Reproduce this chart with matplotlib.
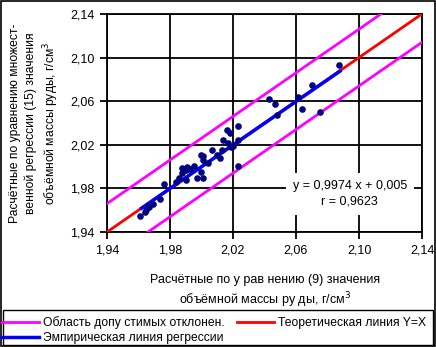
import matplotlib.pyplot as plt
import numpy as np

plt.rcParams['font.family'] = ['Liberation Sans', 'DejaVu Sans']

# points
x_pts = [1.961, 1.964, 1.965, 1.966, 1.967, 1.969, 1.974, 1.976, 1.986, 1.988,
         1.990, 1.990, 1.991, 1.995, 1.997, 2.000, 2.000, 2.001, 2.001, 2.001,
         2.007, 2.010, 2.013, 2.014, 2.016, 2.017, 2.018, 2.019, 2.020, 2.023,
         2.023, 2.023, 2.043, 2.047, 2.048, 2.061, 2.064, 2.070, 2.075, 2.087,
         1.984, 1.993, 1.988, 2.004, 2.012]
y_pts = [1.955, 1.958, 1.960, 1.964, 1.963, 1.966, 1.970, 1.984, 1.990, 1.994,
         1.997, 1.988, 2.000, 2.001, 1.990, 1.995, 2.011, 1.990, 2.010, 2.006,
         2.015, 2.011, 2.015, 2.024, 2.034, 2.022, 2.031, 2.018, 2.019, 2.037,
         2.001, 2.024, 2.062, 2.057, 2.047, 2.064, 2.053, 2.075, 2.050, 2.093,
         1.986, 1.998, 1.999, 2.003, 2.008]

reg_slope = 0.9974
reg_intercept = 0.005
reg_x = [1.962, 2.088]
band = 0.026
ticks = [1.94, 1.98, 2.02, 2.06, 2.10, 2.14]
tick_labels = ['1,94', '1,98', '2,02', '2,06', '2,10', '2,14']

fig = plt.figure(figsize=(4.36, 3.47), dpi=100)
ax = fig.add_axes([0.245, 0.331, 0.723, 0.629])

xx = np.array([1.94, 2.14])
l_band, = ax.plot(xx, xx + band, color='#ff00ff', lw=2, zorder=3)
ax.plot(xx, xx - band, color='#ff00ff', lw=2, zorder=3)
l_theo, = ax.plot(xx, xx, color='#ff0000', lw=2, zorder=3)
rx = np.array(reg_x)
l_reg, = ax.plot(rx, reg_slope * rx + reg_intercept, color='#0000ff', lw=2.5, zorder=4)
ax.scatter(x_pts, y_pts, s=14, color='#000080', zorder=5)

ax.set_xlim(1.94, 2.14)
ax.set_ylim(1.94, 2.14)
ax.set_xticks(ticks)
ax.set_xticklabels(tick_labels)
ax.set_yticks(ticks)
ax.set_yticklabels(tick_labels)
ax.grid(True, color='black', lw=1.3, zorder=1)
ax.set_axisbelow(True)
for s in ax.spines.values():
    s.set_linewidth(1.3)
ax.tick_params(direction='out', length=5, width=1.3, labelsize=9, pad=4)

ax.text(0.771, 0.175, 'y = 0,9974 x + 0,005\nr = 0,9623', transform=ax.transAxes,
        ha='center', va='center', fontsize=9, linespacing=1.35, zorder=6,
        bbox=dict(facecolor='white', edgecolor='none', pad=5))

fig.text(265 / 436, 1 - 292 / 347,
         'Расчётные по у рав нению (9) значения\nобъёмной массы ру ды, г/см$^3$',
         ha='center', va='center', fontsize=9, linespacing=1.3)
fig.text(35 / 436, 1 - 123 / 347,
         'Расчётные по уравнению множест-\nвенной регрессии (15) значения\nобъёмной массы руды, г/см$^3$',
         rotation=90, ha='center', va='center', fontsize=8.7, linespacing=1.35)

# legend box across the bottom
fig.patches.append(plt.Rectangle((0.007, 0.006), 0.986, 1 - 310 / 347 - 0.006,
                                 transform=fig.transFigure, fill=False,
                                 edgecolor='black', lw=1))
leg = fig.legend([l_band, l_reg, l_theo],
                 ['Область допу стимых отклонен.', 'Эмпирическая линия регрессии',
                  'Теоретическая линия Y=X'],
                 ncol=2, loc='upper left', bbox_to_anchor=(0.0, 1 - 314 / 347),
                 fontsize=8.7, frameon=False, handlelength=3.0, handletextpad=0.4,
                 labelspacing=0.2, borderpad=0.2, borderaxespad=0, columnspacing=1.0)

fig.patches.append(plt.Rectangle((0.002, 0.002), 0.996, 0.996, transform=fig.transFigure,
                                 fill=False, edgecolor='black', lw=1.2))

fig.savefig('out.png', dpi=100)
